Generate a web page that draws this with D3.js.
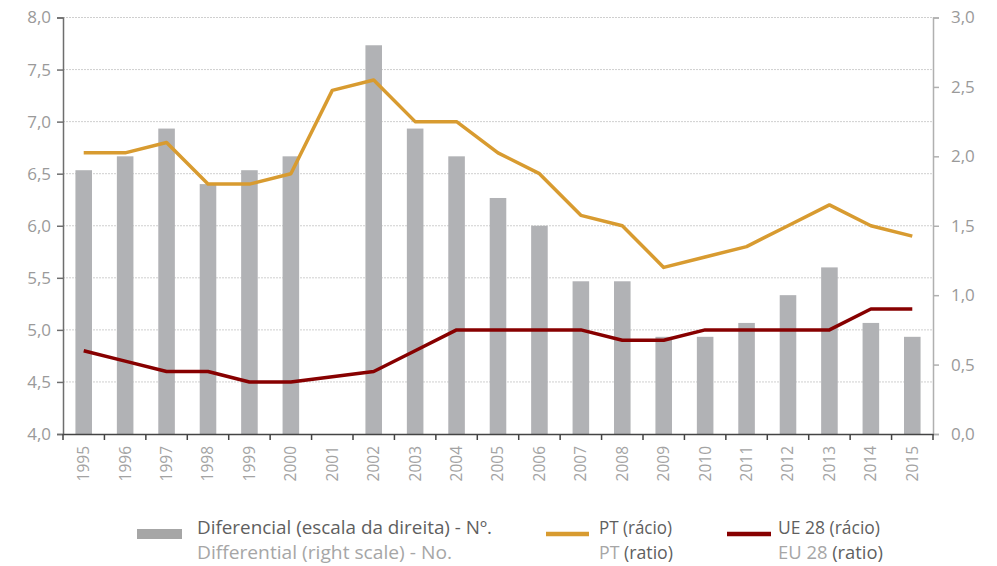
<!DOCTYPE html>
<html>
<head>
<meta charset="utf-8">
<script src="https://cdn.jsdelivr.net/npm/d3@7"></script>
<style>
  body { margin: 0; background: #fff; }
  svg text { font-family: "Open Sans", "DejaVu Sans", sans-serif; }
</style>
</head>
<body>
<svg id="chart" width="997" height="566"></svg>
<script>
// data
const years = ["1995", "1996", "1997", "1998", "1999", "2000", "2001", "2002", "2003", "2004",
  "2005", "2006", "2007", "2008", "2009", "2010", "2011", "2012", "2013", "2014", "2015"];
const diferencial = [1.9, 2.0, 2.2, 1.8, 1.9, 2.0, 0, 2.8, 2.2, 2.0,
  1.7, 1.5, 1.1, 1.1, 0.7, 0.7, 0.8, 1.0, 1.2, 0.8, 0.7];
const ptRacio = [6.7, 6.7, 6.8, 6.4, 6.4, 6.5, 7.3, 7.4, 7.0, 7.0,
  6.7, 6.5, 6.1, 6.0, 5.6, 5.7, 5.8, 6.0, 6.2, 6.0, 5.9];
const ueRacio = [4.8, 4.7, 4.6, 4.6, 4.5, 4.5, 4.55, 4.6, 4.8, 5.0,
  5.0, 5.0, 5.0, 4.9, 4.9, 5.0, 5.0, 5.0, 5.0, 5.2, 5.2];
const leftTicks = [4.0, 4.5, 5.0, 5.5, 6.0, 6.5, 7.0, 7.5, 8.0];
const rightTicks = [0.0, 0.5, 1.0, 1.5, 2.0, 2.5, 3.0];

const svg = d3.select("#chart");
const margin = { l: 63, r: 64, t: 17.5, b: 132 };
const width = 997, height = 566;

const fmt = (v) => d3.format(".1f")(v).replace(".", ",");

const x = d3.scaleBand().domain(years).range([margin.l, width - margin.r]).padding(0);
const yL = d3.scaleLinear().domain([4, 8]).range([height - margin.b, margin.t]);
const yR = d3.scaleLinear().domain([0, 3]).range([height - margin.b, margin.t]);
const bw = x.bandwidth();

// grid lines
svg.append("g")
  .selectAll("line")
  .data(leftTicks.slice(1))
  .join("line")
  .attr("x1", margin.l)
  .attr("x2", width - margin.r)
  .attr("y1", (d) => yL(d))
  .attr("y2", (d) => yL(d))
  .attr("stroke", "#cfcfcf")
  .attr("stroke-width", 1)
  .attr("stroke-dasharray", "2,1");

// bars
svg.append("g")
  .selectAll("rect")
  .data(years.map((y, i) => ({ year: y, v: diferencial[i] })))
  .join("rect")
  .attr("x", (d) => x(d.year) + bw * 0.3)
  .attr("width", bw * 0.4)
  .attr("y", (d) => yR(d.v))
  .attr("height", (d) => yR(0) - yR(d.v))
  .attr("fill", "#b1b2b5");

// lines
const line = d3.line()
  .x((d) => x(d.year) + bw / 2)
  .y((d) => yL(d.v));

svg.append("path")
  .datum(years.map((y, i) => ({ year: y, v: ptRacio[i] })))
  .attr("fill", "none")
  .attr("stroke", "#d89b30")
  .attr("stroke-width", 3.5)
  .attr("stroke-linejoin", "round")
  .attr("d", line);

svg.append("path")
  .datum(years.map((y, i) => ({ year: y, v: ueRacio[i] })))
  .attr("fill", "none")
  .attr("stroke", "#870000")
  .attr("stroke-width", 3.5)
  .attr("stroke-linejoin", "round")
  .attr("d", line);

// left axis
const gL = svg.append("g")
  .attr("transform", `translate(${margin.l},0)`)
  .call(d3.axisLeft(yL).tickValues(leftTicks).tickFormat(fmt).tickSize(6).tickPadding(6));
gL.select(".domain").attr("stroke", "#6e6e6e").attr("stroke-width", 1.5);
gL.selectAll(".tick line").attr("stroke", "#6e6e6e").attr("stroke-width", 1.5);
gL.selectAll(".tick text").attr("fill", "#9a9a9a").attr("font-size", 17);

// right axis
const gR = svg.append("g")
  .attr("transform", `translate(${width - margin.r},0)`)
  .call(d3.axisRight(yR).tickValues(rightTicks).tickFormat(fmt).tickSize(6).tickPadding(12));
gR.select(".domain").attr("stroke", "#b0b0b0").attr("stroke-width", 1.5);
gR.selectAll(".tick line").attr("stroke", "#b0b0b0").attr("stroke-width", 1.5);
gR.selectAll(".tick text").attr("fill", "#9a9a9a").attr("font-size", 17);

// bottom axis
const gB = svg.append("g")
  .attr("transform", `translate(0,${yL(4)})`)
  .call(d3.axisBottom(x).tickSize(0).tickPadding(0));
gB.select(".domain").attr("stroke", "#444").attr("stroke-width", 1.5);
gB.selectAll(".tick text")
  .attr("fill", "#a3a3a3")
  .attr("font-size", 15.5)
  .attr("transform", "rotate(-90)")
  .attr("text-anchor", "end")
  .attr("x", -12)
  .attr("y", 0)
  .attr("dy", "0.35em");
gB.append("g")
  .selectAll("line")
  .data(years.map((y) => x(y)).concat([x.range()[1]]))
  .join("line")
  .attr("x1", (d) => d)
  .attr("x2", (d) => d)
  .attr("y1", 0)
  .attr("y2", 6)
  .attr("stroke", "#444")
  .attr("stroke-width", 1.5);

// legend
const dark = "#5f5f5f", light = "#a6a6a6";
const leg = svg.append("g").attr("font-size", 18);
leg.append("rect")
  .attr("x", 137).attr("y", 529).attr("width", 45).attr("height", 10)
  .attr("fill", "#a6a6a6");
leg.append("text").attr("x", 197).attr("y", 534)
  .attr("fill", dark)
  .attr("textLength", 295).attr("lengthAdjust", "spacingAndGlyphs")
  .text("Diferencial (escala da direita) - Nº.");
leg.append("text").attr("x", 197).attr("y", 559)
  .attr("fill", light)
  .attr("textLength", 255).attr("lengthAdjust", "spacingAndGlyphs")
  .text("Differential (right scale) - No.");

leg.append("line")
  .attr("x1", 546).attr("x2", 589).attr("y1", 534).attr("y2", 534)
  .attr("stroke", "#d89b30").attr("stroke-width", 4.5);
leg.append("text").attr("x", 599).attr("y", 534)
  .attr("fill", dark)
  .attr("textLength", 73).attr("lengthAdjust", "spacingAndGlyphs")
  .text("PT (rácio)");
const pt2 = leg.append("text").attr("x", 599).attr("y", 559)
  .attr("textLength", 74).attr("lengthAdjust", "spacingAndGlyphs");
pt2.append("tspan").attr("fill", light).text("PT ");
pt2.append("tspan").attr("fill", dark).text("(ratio)");

leg.append("line")
  .attr("x1", 727).attr("x2", 771).attr("y1", 534).attr("y2", 534)
  .attr("stroke", "#870000").attr("stroke-width", 4.5);
leg.append("text").attr("x", 778).attr("y", 534)
  .attr("fill", dark)
  .attr("textLength", 102).attr("lengthAdjust", "spacingAndGlyphs")
  .text("UE 28 (rácio)");
const ue2 = leg.append("text").attr("x", 778).attr("y", 559)
  .attr("textLength", 105).attr("lengthAdjust", "spacingAndGlyphs");
ue2.append("tspan").attr("fill", light).text("EU 28 ");
ue2.append("tspan").attr("fill", dark).text("(ratio)");
</script>
</body>
</html>
